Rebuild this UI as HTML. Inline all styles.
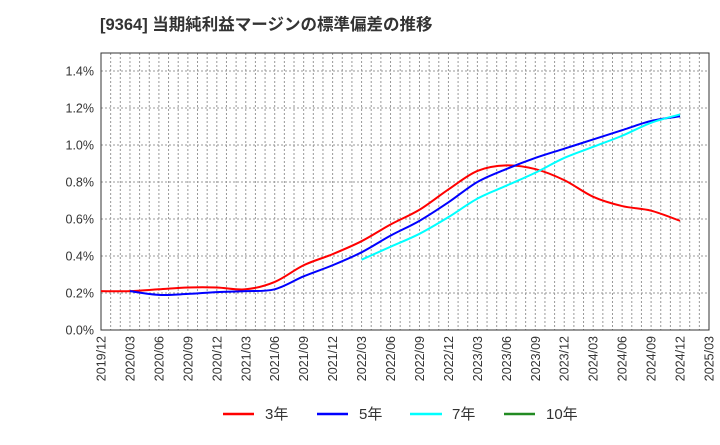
<!DOCTYPE html>
<html><head><meta charset="utf-8"><style>
body{margin:0;background:#fff;}
svg{font-family:"Liberation Sans","Noto Sans CJK JP",sans-serif;}
</style></head><body>
<svg id="chart" width="720" height="440" xmlns="http://www.w3.org/2000/svg">
<text x="100" y="30" font-size="16.5" font-weight="bold" fill="#333">[9364]  当期純利益マージンの標準偏差の推移</text>
<g id="grid"></g><g id="axes"></g><g id="series"></g>
<g font-size="15" fill="#333">
<g><line x1="223" y1="414" x2="254" y2="414" stroke="#f00" stroke-width="2.5"/><text x="265" y="419">3年</text></g>
<g><line x1="317" y1="414" x2="348" y2="414" stroke="#00f" stroke-width="2.5"/><text x="359" y="419">5年</text></g>
<g><line x1="410" y1="414" x2="442" y2="414" stroke="#0ff" stroke-width="2.5"/><text x="452" y="419">7年</text></g>
<g><line x1="504" y1="414" x2="535" y2="414" stroke="#228b22" stroke-width="2.5"/><text x="546" y="419">10年</text></g>
</g>
</svg>
<script>
const xLabels=["2019/12","2020/03","2020/06","2020/09","2020/12","2021/03","2021/06","2021/09","2021/12","2022/03","2022/06","2022/09","2022/12","2023/03","2023/06","2023/09","2023/12","2024/03","2024/06","2024/09","2024/12","2025/03"];
const yTicks=[0,0.2,0.4,0.6,0.8,1.0,1.2,1.4];
const s3=[0.21,0.21,0.22,0.23,0.23,0.22,0.26,0.35,0.41,0.48,0.57,0.65,0.76,0.86,0.89,0.87,0.81,0.72,0.67,0.645,0.59];
const s5=[null,0.21,0.19,0.195,0.205,0.21,0.22,0.29,0.35,0.42,0.51,0.59,0.69,0.80,0.87,0.93,0.98,1.03,1.08,1.13,1.155];
const s7=[null,null,null,null,null,null,null,null,null,0.38,0.45,0.52,0.61,0.71,0.78,0.85,0.93,0.99,1.05,1.12,1.165];
const s10=[];
const L=101,R=709,T=53,B=330;
const x=i=>L+(R-L)*i/(xLabels.length-1);
const y=v=>B-(B-71)*v/1.4;
const NS="http://www.w3.org/2000/svg";
function mk(t,a,p){const e=document.createElementNS(NS,t);for(const k in a)e.setAttribute(k,a[k]);p.appendChild(e);return e;}
const grid=document.getElementById('grid'),axes=document.getElementById('axes'),ser=document.getElementById('series');
for(let m=1;m<(xLabels.length-1)*3;m++){const xx=L+(R-L)*m/((xLabels.length-1)*3);
const g=mk('line',{x1:xx,x2:xx,y1:T,y2:B,stroke:'#999','stroke-dasharray':'2,2','stroke-width':1},grid);
}
yTicks.forEach(v=>{if(v>0){const g=mk('line',{x1:L,x2:R,y1:y(v),y2:y(v),stroke:'#999','stroke-dasharray':'2,2'},grid);
}
const t=mk('text',{x:L-7,y:y(v)+4.5,'text-anchor':'end','font-size':12.5,fill:'#333'},axes);t.textContent=v.toFixed(1)+'%';
});
const fr=mk('rect',{x:L,y:T,width:R-L,height:B-T,fill:'none',stroke:'#333','stroke-width':1},axes);

xLabels.forEach((l,i)=>{const t=mk('text',{transform:`translate(${x(i)+4.5},${B+6}) rotate(-90)`,'text-anchor':'end','font-size':12.5,fill:'#333'},axes);t.textContent=l;
});
function path(data){const p=[];data.forEach((v,i)=>{if(v!=null)p.push([x(i),y(v)]);});if(p.length<2)return '';
let d=`M${p[0][0]},${p[0][1]}`;for(let i=0;i<p.length-1;i++){const p0=p[i-1]||p[i],p1=p[i],p2=p[i+1],p3=p[i+2]||p2;
d+=` C${p1[0]+(p2[0]-p0[0])/6},${p1[1]+(p2[1]-p0[1])/6} ${p2[0]-(p3[0]-p1[0])/6},${p2[1]-(p3[1]-p1[1])/6} ${p2[0]},${p2[1]}`;}return d;}
[[s3,'#f00','line-3y'],[s5,'#00f','line-5y'],[s7,'#0ff','line-7y'],[s10,'#228b22','line-10y']].forEach(([d,c,n])=>{const pd=path(d);if(!pd)return;
const e=mk('path',{d:pd,fill:'none',stroke:c,'stroke-width':2},ser);
});
</script>
</body></html>
